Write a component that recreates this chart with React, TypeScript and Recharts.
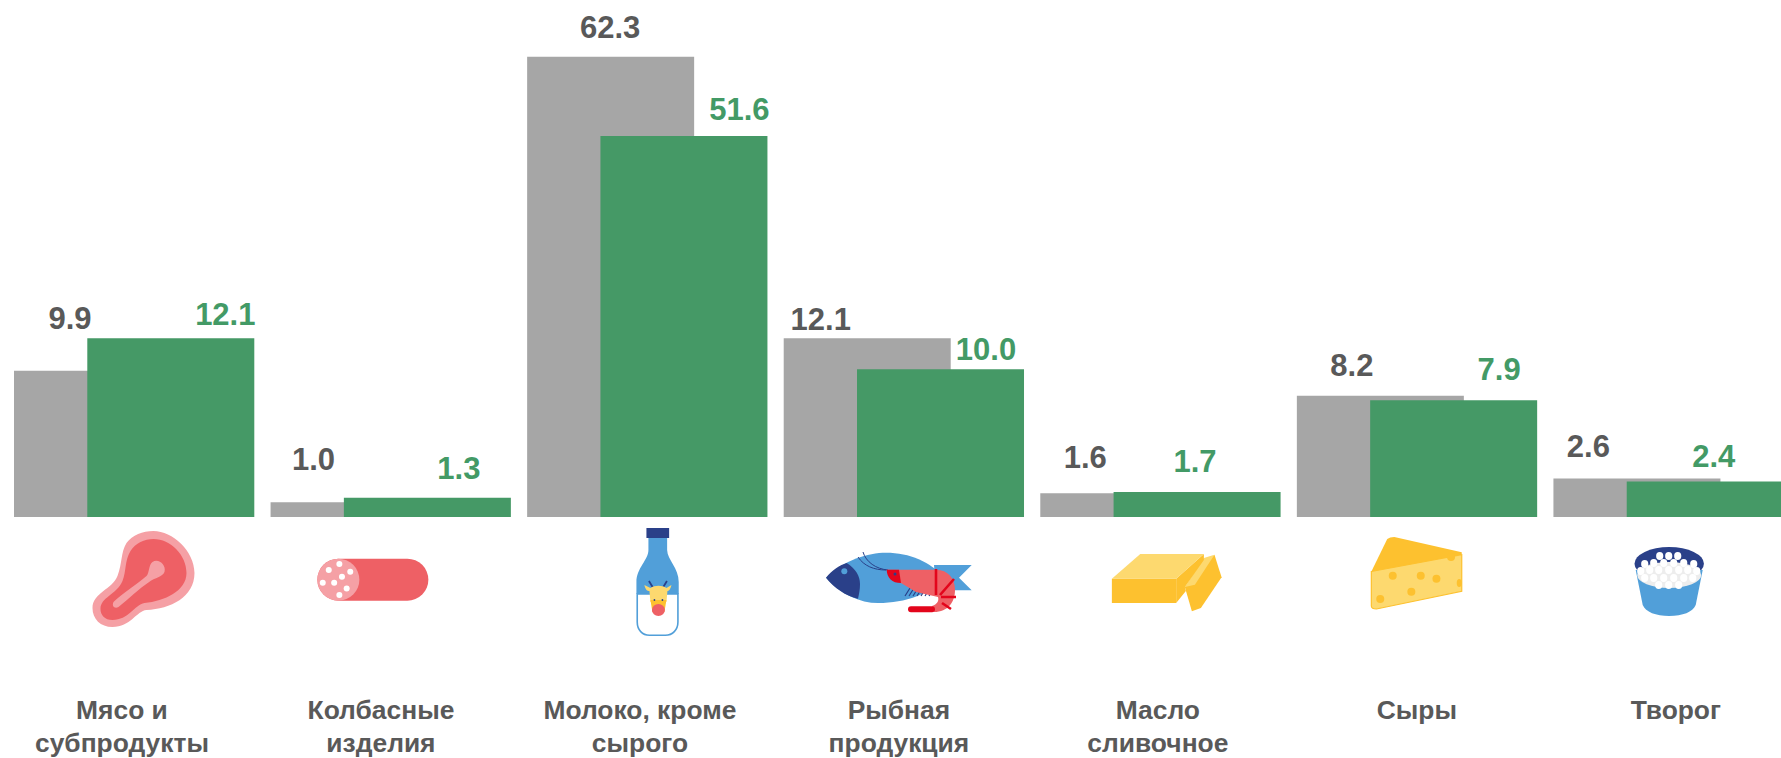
import { BarChart, Bar, XAxis, YAxis, LabelList } from 'recharts';

const categories = [
  ['Мясо и', 'субпродукты'],
  ['Колбасные', 'изделия'],
  ['Молоко, кроме', 'сырого'],
  ['Рыбная', 'продукция'],
  ['Масло', 'сливочное'],
  ['Сыры'],
  ['Творог'],
];
// printed values
const grayValues = [9.9, 1.0, 62.3, 12.1, 1.6, 8.2, 2.6];
const greenValues = [12.1, 1.3, 51.6, 10.0, 1.7, 7.9, 2.4];
// drawn heights: the milk column is drawn at half scale in the original
const grayDrawn = [9.9, 1.0, 31.15, 12.1, 1.6, 8.2, 2.6];
const greenDrawn = [12.1, 1.3, 25.8, 10.0, 1.7, 7.9, 2.4];

// hand placement of the value labels, relative to bar centre and bar top
const grayNudgeX = [-27.5, -40.5, -0.5, -46.5, -38.5, -28.5, -48.5];
const grayNudgeY = [42, 32, 19, 8, 25, 20, 22];
const greenNudgeX = [54.5, 31.5, 55.5, 45.5, -2, 45.5, 3.5];
const greenNudgeY = [13, 19, 16, 9, 20, 20, 15];

const GRAY = '#A6A6A6';
const GREEN = '#459966';
const TEXT_GRAY = '#595959';
const TEXT_GREEN = '#439A66';
const FONT = '"Liberation Sans", Arial, sans-serif';
const RED = '#EE6065';
const PINK = '#F5A0A5';
const BLUE = '#519FD9';
const NAVY = '#2A4089';
const YELLOW = '#FDC12F';
const LIGHT_YELLOW = '#FDD96F';
const BRIGHT_RED = '#E3051B';

const data = categories.map((lines, i) => ({
  name: lines.join(' '),
  gray: grayDrawn[i],
  green: greenDrawn[i],
  grayLabel: grayValues[i],
  greenLabel: greenValues[i],
}));

const MeatIcon = () => (
  <g>
    <path fill={PINK} d="M61 0 C80 0 102 20 102 42 C102 66 78 78 54 79 C44 80 38 96 20 96 C8 96 0 88 0 77 C0 62 20 58 25 45 C30 32 28 22 34 12 C40 4 50 0 61 0 Z" />
    <path fill={RED} d="M61 8 C78 8 94 24 94 42 C94 60 72 70 52 72 C42 74 36 89 20 89 C12 89 8 84 8 78 C8 66 24 64 30 50 C34 40 32 30 38 20 C43 12 52 8 61 8 Z" />
    <path fill={PINK} d="M60 31 C66 27 74 34 72 41 C70 46 62 47 58 50 C46 58 36 68 26 76 C22 78 19 75 21 71 C30 62 44 54 54 45 C57 42 56 34 60 31 Z" />
  </g>
);

const sausageDots = [[11.4, 11.3], [22, 5.3], [32.9, 13], [24.6, 18], [5.4, 24], [16.8, 24], [29.3, 29.7], [22, 36.3]];
const SausageIcon = () => (
  <g>
    <rect x={0} y={0} width={111} height={42} rx={21} fill={RED} />
    <circle cx={21} cy={21} r={21} fill={PINK} />
    {sausageDots.map(([cx, cy], i) => <circle key={i} cx={cx} cy={cy} r={3} fill="#fff" />)}
  </g>
);

const BottleIcon = () => (
  <g>
    <path fill={BLUE} d="M12 10 L30.7 10 L30.7 22 C31 32 42.3 40 42.3 54 L42.3 66 L0 66 L0 54 C0 40 12 32 12 22 Z" />
    <path fill="#fff" stroke={BLUE} strokeWidth={1.6} d="M0.8 66 L41.5 66 L41.5 94 C41.5 102 36 107.2 29 107.2 L13 107.2 C6 107.2 0.8 102 0.8 94 Z" />
    <rect x={10} y={0} width={22.7} height={10} fill={NAVY} />
    <path fill="none" stroke={NAVY} strokeWidth={1.8} d="M12.5 53 L18 62 M30.5 53 L25 62" />
    <path fill={LIGHT_YELLOW} d="M8 57 L14 60 C18 57 26 57 30 60 L35 57 C34 62 32 63 31 63 L30 74 L14 74 L13 63 C11 63 9 62 8 57 Z" />
    <path fill={YELLOW} d="M14 72 L30 72 L28 84 L16 84 Z" />
    <ellipse cx={22} cy={82} rx={6.5} ry={6} fill={RED} />
    <circle cx={18} cy={72} r={0.9} fill={NAVY} />
    <circle cx={26} cy={72} r={0.9} fill={NAVY} />
  </g>
);

const FishIcon = () => (
  <g>
    <path fill={BLUE} d="M108 13 L145.7 13 L133 25.7 L145.7 38.3 L110 38.3 Z" />
    <path fill={BLUE} d="M0 25.7 C18 8 42 0.7 60 0.7 C84 0.7 104 10 118 25 C104 42 80 51 52 51 C34 51 14 42 0 25.7 Z" />
    <path fill={NAVY} d="M0 25.7 C6 18 14 13 20.7 11 C30 17 34 24 34 32 C34 38 33 42 32 46.7 C20 44 8 36 0 25.7 Z" />
    <circle cx={18.3} cy={19.3} r={3} fill={BLUE} />
    <path fill="none" stroke={NAVY} strokeWidth={1} d="M32 5 C38 14 48 18 60 18 M37 0 C40 10 50 17 62 18" />
    <path fill="none" stroke={NAVY} strokeWidth={1.2} d="M79 44 L84 36 M83 44 L88 36 M87 44 L92 36 M91 44 L96 36 M95 44 L100 36 M99 44 L104 36 M103 44 L108 36" />
    <path fill={RED} d="M60.7 17.7 L110 17.7 C122 18 129 26 129 38 C129 50 122 60 108 60 L106 54 C112 52 113 48 112 45 L90 40 L75 31 Z" />
    <path fill={BRIGHT_RED} d="M60.7 17.7 L73 17.7 L75 31 C66 31 61 26 60.7 17.7 Z" />
    <circle cx={69} cy={22} r={1.5} fill={NAVY} />
    <path fill="none" stroke={BRIGHT_RED} strokeWidth={2.6} d="M110 17 L110 43 M128 27 L114 43 M130 45 L115 45 M125 57 L116 51" />
    <path fill="none" stroke={BRIGHT_RED} strokeWidth={6} strokeLinecap="round" d="M85 57.3 L106 57.3" />
  </g>
);

const ButterIcon = () => (
  <g>
    <path fill={YELLOW} d="M73 33 L102.6 0.7 L109.7 23.3 L89 54 L80 57.3 L74.7 39 Z" />
    <path fill={LIGHT_YELLOW} d="M73 33 L92 4 L102.6 0.7 L83 30.7 Z" />
    <path fill={YELLOW} d="M64.3 24.7 L92 0 L92 6 L73 33 L74 37 L64.3 49 Z" />
    <rect x={0} y={24.7} width={64.3} height={24.3} fill={YELLOW} />
    <path fill={LIGHT_YELLOW} d="M0 24.7 L28.4 0 L92 0 L64.3 24.7 Z" />
  </g>
);

const cheeseHoles = [[22, 38.7], [50, 38.7], [65.7, 41.7], [40.6, 54.7], [9.5, 62], [80.3, 20], [88.5, 46]];
const CheeseIcon = () => (
  <g>
    <path fill={YELLOW} d="M1 33.7 L16.5 2 Q19 0 23.6 0 L91 15.3 L91 18 L1 36 Z" />
    <path fill={LIGHT_YELLOW} stroke={YELLOW} strokeWidth={1.2} d="M0.6 34.5 L91 17.7 L91 54.3 L5.7 72 Q0.6 72 0.6 69 Z" />
    {cheeseHoles.map(([cx, cy], i) => <ellipse key={i} cx={cx} cy={cy} rx={i === 6 ? 2.5 : 4} ry={4} fill={YELLOW} />)}
  </g>
);

const curds = [
  [25, 9], [34, 9], [43, 9], [10, 17], [19, 16], [29, 16], [39, 16], [49, 16], [59, 17],
  [6, 24], [15, 23], [24, 23], [34, 23], [44, 23], [53, 23], [62, 24],
  [10, 31], [19, 31], [29, 31], [39, 31], [49, 31], [58, 31],
  [24, 38], [34, 38], [44, 38],
];
const TubIcon = () => (
  <g>
    <ellipse cx={34.5} cy={16.7} rx={34.7} ry={16.7} fill={NAVY} />
    <path fill={BLUE} d="M1 23 L68 23 L61 58 C58 65 48 69 34.5 69 C21 69 11 65 8 58 Z" />
    <ellipse cx={34.5} cy={28} rx={32} ry={13} fill="#EDEDED" />
    {curds.map(([cx, cy], i) => <ellipse key={i} cx={cx} cy={cy} rx={3.6} ry={4} fill="#fff" />)}
  </g>
);

// icon, horizontal offset from the band centre, top edge on the page
const icons = [
  { Icon: MeatIcon, dx: -41.8, top: 531 },
  { Icon: SausageIcon, dx: -73.5, top: 558.7 },
  { Icon: BottleIcon, dx: -11, top: 528 },
  { Icon: FishIcon, dx: -78, top: 552 },
  { Icon: ButterIcon, dx: -48.7, top: 554 },
  { Icon: CheeseIcon, dx: -46.4, top: 537 },
  { Icon: TubIcon, dx: -39, top: 547 },
];

const CategoryTick = ({ x, index }: any) => {
  const { Icon, dx, top } = icons[index];
  const textX = x - 12.3 + 2.4 * index;
  return (
    <g>
      <g transform={`translate(${x + dx},${top})`}>
        <Icon />
      </g>
      <text textAnchor="middle" fontFamily={FONT} fontWeight="bold" fontSize={26.4} fill={TEXT_GRAY}>
        {categories[index].map((line, i) => (
          <tspan key={i} x={textX} y={719 + i * 33}>{line}</tspan>
        ))}
      </text>
    </g>
  );
};

const valueLabel = (nudgeX: number[], nudgeY: number[], color: string) => ({ x, y, width, value, index }: any) => (
  <text
    x={x + width / 2 + nudgeX[index]}
    y={y - nudgeY[index]}
    textAnchor="middle"
    fontFamily={FONT}
    fontWeight="bold"
    fontSize={31}
    fill={color}
  >
    {Number(value).toFixed(1)}
  </text>
);

export default function App() {
  return (
    <div style={{ position: 'absolute', left: 0, top: 0, width: 1781, height: 758, overflow: 'hidden', background: '#fff' }}>
      <BarChart
        width={1802}
        height={758}
        data={data}
        barSize={167}
        barGap={-93.7}
        margin={{ top: 0, right: 0, bottom: 0, left: 6 }}
      >
        <YAxis hide domain={[0, 35]} />
        <XAxis
          dataKey="name"
          axisLine={false}
          tickLine={false}
          interval={0}
          height={241}
          tick={<CategoryTick />}
        />
        <Bar dataKey="gray" fill={GRAY} isAnimationActive={false}>
          <LabelList dataKey="grayLabel" content={valueLabel(grayNudgeX, grayNudgeY, TEXT_GRAY)} />
        </Bar>
        <Bar dataKey="green" fill={GREEN} isAnimationActive={false}>
          <LabelList dataKey="greenLabel" content={valueLabel(greenNudgeX, greenNudgeY, TEXT_GREEN)} />
        </Bar>
      </BarChart>
    </div>
  );
}
